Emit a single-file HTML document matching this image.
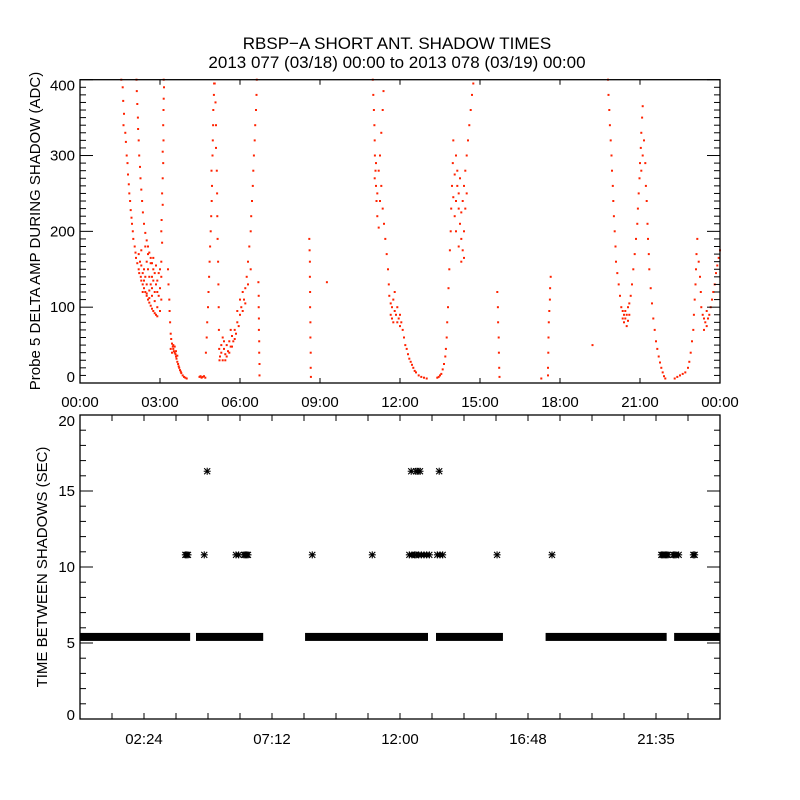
<!DOCTYPE html>
<html><head><meta charset="utf-8"><style>
body{margin:0;background:#fff;width:800px;height:800px;overflow:hidden}
svg{display:block}
text{font-family:"Liberation Sans",sans-serif;fill:#000}
</style></head><body>
<svg id="c" width="800" height="800" xmlns="http://www.w3.org/2000/svg">
<rect width="800" height="800" fill="#fff"/>
<text x="397" y="49" font-size="17" text-anchor="middle">RBSP−A SHORT ANT. SHADOW TIMES</text>
<text x="397" y="68" font-size="17" text-anchor="middle">2013 077 (03/18) 00:00 to 2013 078 (03/19) 00:00</text>
<g id="topPanel"></g>
<g id="botPanel"></g>
</svg>
<script>
// ---------- data: top panel (hours, ADC) ----------
const branchA=[[1.55,400],[1.6,390],[1.62,372],[1.65,355],[1.63,340],[1.7,330],[1.72,318],[1.75,300],[1.78,290],[1.8,275],[1.83,262],[1.85,250],[1.88,240],[1.9,228],[1.93,218],[1.95,210],[1.98,200],[2.0,190],[2.05,180],[2.08,172],[2.1,165],[2.15,158],[2.2,150],[2.22,145],[2.28,140],[2.3,135],[2.35,130],[2.4,125],[2.45,120],[2.5,115],[2.55,110],[2.6,106],[2.65,102],[2.7,98],[2.75,95],[2.8,92],[2.85,90],[2.9,88]];
const branchB=[[2.12,400],[2.13,385],[2.15,368],[2.17,350],[2.18,335],[2.2,320],[2.22,300],[2.25,285],[2.27,270],[2.3,255],[2.33,240],[2.36,225],[2.4,210],[2.45,198],[2.5,188],[2.55,180],[2.6,172],[2.65,165],[2.7,158],[2.75,150]];
const cloudAB=[[2.2,170],[2.25,160],[2.3,155],[2.35,145],[2.4,150],[2.45,140],[2.5,160],[2.55,150],[2.6,140],[2.65,130],[2.7,125],[2.75,135],[2.8,145],[2.85,130],[2.9,120],[2.95,115],[3.0,125],[3.05,110],[2.4,135],[2.5,130],[2.6,122],[2.7,115],[2.8,108],[2.9,100],[3.0,95],[2.55,170],[2.65,158],[2.75,165],[2.85,155],[2.95,145],[3.05,140],[2.3,175],[2.45,180],[2.35,120],[2.6,112],[2.9,135],[3.0,150],[2.8,120],[2.7,140],[2.5,118]];
const branchC=[[3.05,160],[3.08,185],[3.05,200],[3.06,215],[3.1,235],[3.08,250],[3.1,270],[3.12,290],[3.1,305],[3.13,320],[3.12,340],[3.13,360],[3.14,375],[3.15,390],[3.14,400]];
const branchD=[[3.3,150],[3.32,130],[3.35,110],[3.36,95],[3.38,80],[3.4,65],[3.42,58],[3.45,52],[3.48,48],[3.5,45],[3.52,42],[3.55,40],[3.58,38],[3.6,35],[3.62,32],[3.65,28],[3.68,25],[3.7,22],[3.72,20],[3.75,17],[3.78,15],[3.8,13],[3.85,10],[3.9,8],[3.95,7],[4.0,6],[3.45,40],[3.5,50],[3.55,48],[3.6,42],[3.4,45],[3.65,36],[4.48,8],[4.52,9],[4.56,7],[4.6,8],[4.65,9],[4.7,7]];
const branchE=[[4.72,40],[4.75,60],[4.77,80],[4.8,100],[4.82,120],[4.84,140],[4.86,160],[4.88,180],[4.9,200],[4.92,220],[4.94,240],[4.95,260],[4.93,280],[4.97,300],[4.98,320],[4.99,340],[5.0,360],[5.02,380],[5.03,395]];
const branchF=[[5.05,395],[5.08,370],[5.1,340],[5.1,310],[5.13,280],[5.14,250],[5.15,220],[5.16,190],[5.18,160],[5.19,130],[5.2,100],[5.21,70],[5.22,45],[5.23,30]];
const cloudG=[[5.25,35],[5.3,40],[5.35,30],[5.4,45],[5.45,38],[5.5,50],[5.55,42],[5.6,55],[5.65,48],[5.7,62],[5.75,55],[5.8,70],[5.85,65],[5.9,80],[5.95,75],[6.0,90],[6.05,100],[6.1,95],[6.15,110],[6.2,125],[6.25,140],[6.3,160],[6.35,180],[6.4,200],[6.42,220],[6.45,240],[6.48,260],[6.5,280],[6.52,300],[6.55,320],[6.57,340],[6.6,360],[6.62,380],[6.63,400],[5.3,50],[5.4,55],[5.5,35],[5.6,40],[5.7,48],[5.8,58],[5.9,95],[6.0,110],[6.1,120],[6.2,105],[5.35,60],[5.45,30],[5.65,70],[6.3,130],[6.4,150]];
const spikes=[[6.69,133],[6.7,115],[6.7,100],[6.71,85],[6.71,70],[6.72,55],[6.72,40],[6.73,25],[6.73,10],[8.6,190],[8.61,175],[8.62,160],[8.62,140],[8.63,120],[8.63,100],[8.64,80],[8.64,60],[8.65,40],[8.65,20],[8.66,8],[9.26,133],[15.65,120],[15.67,100],[15.68,80],[15.7,60],[15.71,40],[15.72,20],[15.73,8],[17.65,140],[17.63,125],[17.62,110],[17.6,95],[17.58,80],[17.57,60],[17.56,40],[17.55,20],[17.3,6],[17.55,10],[19.22,50]];
const branchI=[[10.98,400],[11.0,380],[11.02,360],[11.04,340],[11.05,320],[11.06,300],[11.08,280],[11.1,260],[11.12,240],[11.15,220],[11.2,205],[11.05,270],[11.1,290],[11.15,250],[11.2,280],[11.25,300],[11.3,330],[11.35,360],[11.38,385],[11.25,240],[11.3,260],[11.35,230],[11.4,210],[11.45,190],[11.5,170],[11.55,150],[11.58,130],[11.6,115],[11.65,105],[11.7,100],[11.75,110],[11.8,95],[11.85,90],[11.9,100],[11.95,85],[12.0,90],[12.05,80],[12.1,70],[12.15,60],[12.2,50],[12.25,45],[12.3,38],[12.35,32],[12.4,28],[12.45,24],[12.5,20],[12.55,16],[12.6,14],[12.7,10],[12.8,8],[12.9,7],[13.0,6],[11.7,85],[11.8,120],[11.9,80],[12.0,75],[11.65,90],[11.75,80]];
const branchK1=[[13.4,7],[13.45,8],[13.5,10],[13.55,12],[13.6,18],[13.65,25],[13.7,35],[13.72,45],[13.75,60],[13.77,80],[13.8,100],[13.82,125],[13.85,150],[13.87,175],[13.9,200],[13.92,230],[13.95,260],[13.98,290],[14.0,320],[14.0,245],[14.05,275],[14.05,220],[14.1,240],[14.15,260],[14.2,230],[14.25,210],[14.3,190],[14.35,175],[14.4,165],[14.1,300],[14.15,280],[14.2,250],[14.3,225],[14.35,240],[14.4,260],[14.45,280],[14.5,300],[14.55,320],[14.6,340],[14.65,360],[14.7,380],[14.75,395],[14.45,230],[14.5,250],[14.25,270],[14.1,200],[14.2,180],[14.3,160],[14.4,200]];
const branchJ=[[19.8,400],[19.82,380],[19.85,360],[19.87,340],[19.9,320],[19.93,300],[19.95,280],[19.98,260],[20.0,240],[20.02,220],[20.05,200],[20.08,180],[20.1,160],[20.15,145],[20.2,130],[20.25,115],[20.3,100],[20.35,95],[20.4,90],[20.45,85],[20.5,75],[20.55,82],[20.6,90],[20.35,85],[20.45,95],[20.55,100],[20.4,80],[20.5,90],[20.6,105],[20.65,115],[20.7,130],[20.75,150],[20.8,170],[20.85,190],[20.9,210],[20.92,230],[20.95,250],[20.98,270],[21.0,290],[21.03,310],[21.05,330],[21.08,350],[21.1,365],[21.05,280],[21.1,300]];
const branchL=[[21.15,320],[21.2,290],[21.22,260],[21.25,240],[21.28,210],[21.3,190],[21.33,170],[21.35,150],[21.4,125],[21.45,105],[21.5,85],[21.55,70],[21.6,55],[21.65,45],[21.7,35],[21.75,27],[21.8,20],[21.85,14],[21.9,9],[21.95,6]];
const branchM=[[22.3,6],[22.4,8],[22.5,10],[22.6,12],[22.7,14],[22.8,20],[22.85,28],[22.9,40],[22.95,55],[23.0,70],[23.02,90],[23.05,110],[23.08,130],[23.1,150],[23.12,170],[23.15,190],[23.2,160],[23.25,140],[23.28,120],[23.3,100],[23.35,90],[23.4,85],[23.45,80],[23.5,75],[23.55,85],[23.6,90],[23.4,70],[23.5,95],[23.65,100],[23.7,110],[23.75,120],[23.8,130],[23.85,145],[23.9,155],[23.95,165],[24.0,175]];
const topYTicks=[0,100,200,300,400];
const topXLabels=["00:00","03:00","06:00","09:00","12:00","15:00","18:00","21:00","00:00"];
// ---------- data: bottom panel (hours, seconds) ----------
const bandSegments=[[0,4.13],[4.35,6.87],[8.44,13.05],[13.35,15.86],[17.46,22.0],[22.28,24]];
const bandValue=5.4;
const times10=[3.95,4.0,4.05,4.66,5.85,5.95,6.15,6.2,6.25,6.3,8.71,10.96,12.35,12.45,12.55,12.6,12.7,12.8,12.9,13.0,13.1,13.4,13.5,13.6,15.64,17.7,21.8,21.85,21.9,21.95,22.0,22.05,22.25,22.3,22.35,22.45,23.0,23.05];
const value10=10.8;
const times16=[4.77,12.42,12.6,12.67,12.75,13.47];
const value16=16.3;
const botYTicks=[0,5,10,15,20];
const botXLabelHours=[2.4,7.2,12.0,16.8,21.6];
const botXLabels=["02:24","07:12","12:00","16:48","21:35"];

const NS="http://www.w3.org/2000/svg";
const L=80,R=720;
function mk(p,tag,a){const e=document.createElementNS(NS,tag);for(const k in a)e.setAttribute(k,a[k]);p.appendChild(e);return e;}
const xT=h=>L+(h/24)*(R-L);
const T0=79.7,T1=383, yT=v=>T1-v/400*(T1-T0);
const B0=415,B1=719, yB=v=>B1-v/20*(B1-B0);

// ---- top panel ----
const topG=document.getElementById('topPanel');
const dots=mk(topG,'g',{fill:'#ff2200'});


[branchA,branchB,cloudAB,branchC,branchD,branchE,branchF,cloudG,spikes,branchI,branchK1,branchJ,branchL,branchM].forEach(s=>s.forEach(p=>{
  const r=mk(dots,'rect',{x:(xT(p[0])-1).toFixed(1),y:(yT(p[1])-1).toFixed(1),width:2,height:2});
  
  
}));
const tf=mk(topG,'rect',{x:L,y:T0,width:R-L,height:T1-T0,fill:'none',stroke:'#000','stroke-width':1.3});


for(let v=0;v<=400;v+=10){const y=yT(v),len=v%100===0?13:6;
  mk(topG,'line',{x1:L,x2:L+len,y1:y,y2:y,stroke:'#000'});mk(topG,'line',{x1:R,x2:R-len,y1:y,y2:y,stroke:'#000'});}
topYTicks.forEach(v=>{let y=yT(v)+5;if(v===400)y=yT(v)+11;if(v===0)y=yT(v)-1;
  const t=mk(topG,'text',{x:75,y:y,'font-size':15,'text-anchor':'end'});t.textContent=v;
  
  });
topXLabels.forEach((s,i)=>{const x=xT(i*3);
  mk(topG,'line',{x1:x,x2:x,y1:T1,y2:T1-5,stroke:'#000'});mk(topG,'line',{x1:x,x2:x,y1:T0,y2:T0+5,stroke:'#000'});
  const t=mk(topG,'text',{x:x,y:407,'font-size':15,'text-anchor':'middle'});t.textContent=s;
  
  });
const ty=mk(topG,'text',{x:0,y:0,'font-size':15,'text-anchor':'middle',transform:'translate(40,231) rotate(-90)'});
ty.textContent='Probe 5 DELTA AMP DURING SHADOW (ADC)';



// ---- bottom panel ----
const botG=document.getElementById('botPanel');
bandSegments.forEach(s=>{const r=mk(botG,'rect',{x:xT(s[0]),y:yB(bandValue)-4,width:xT(s[1])-xT(s[0]),height:8,fill:'#000'});
  
  });
function star(x,y){const g=mk(botG,'path',{d:`M${x-3.5} ${y}H${x+3.5}M${x} ${y-3.5}V${y+3.5}M${x-3} ${y-3}L${x+3} ${y+3}M${x-3} ${y+3}L${x+3} ${y-3}`,stroke:'#000','stroke-width':1.1,fill:'none'});
  
  }
times10.forEach(t=>star(xT(t),yB(value10)));
times16.forEach(t=>star(xT(t),yB(value16)));
const bf=mk(botG,'rect',{x:L,y:B0,width:R-L,height:B1-B0,fill:'none',stroke:'#000','stroke-width':1.3});


for(let v=0;v<=20;v++){const y=yB(v),len=v%5===0?13:6;
  mk(botG,'line',{x1:L,x2:L+len,y1:y,y2:y,stroke:'#000'});mk(botG,'line',{x1:R,x2:R-len,y1:y,y2:y,stroke:'#000'});}
botYTicks.forEach(v=>{let y=yB(v)+5;if(v===20)y=yB(v)+11;if(v===0)y=yB(v)+1;
  const t=mk(botG,'text',{x:75,y:y,'font-size':15,'text-anchor':'end'});t.textContent=v;
  
  });
for(let i=0;i<=20;i++){const x=xT(i*1.2);
  mk(botG,'line',{x1:x,x2:x,y1:B1,y2:B1-6,stroke:'#000'});mk(botG,'line',{x1:x,x2:x,y1:B0,y2:B0+6,stroke:'#000'});}
botXLabels.forEach((s,i)=>{const t=mk(botG,'text',{x:xT(botXLabelHours[i]),y:744,'font-size':15,'text-anchor':'middle'});t.textContent=s;
  
  });
const by=mk(botG,'text',{x:0,y:0,'font-size':15,'text-anchor':'middle',transform:'translate(47,567) rotate(-90)'});
by.textContent='TIME BETWEEN SHADOWS (SEC)';


</script>
</body></html>
